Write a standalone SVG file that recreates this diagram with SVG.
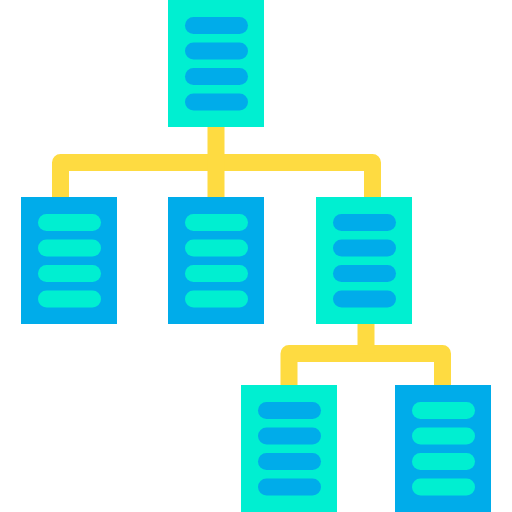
<svg xmlns="http://www.w3.org/2000/svg" width="512" height="512" viewBox="0 0 512 512">
<style>
.cy{fill:#00EFD1}.bl{fill:#00ACEA}
.ln{fill:none;stroke:#FEDB41;stroke-width:17;stroke-linejoin:round}
</style>
<defs>
<g id="barsB" class="bl">
<rect x="17" y="17" width="63" height="17" rx="8.5"/>
<rect x="17" y="42.5" width="63" height="17" rx="8.5"/>
<rect x="17" y="68" width="63" height="17" rx="8.5"/>
<rect x="17" y="93.5" width="63" height="17" rx="8.5"/>
</g>
<g id="barsC" class="cy">
<rect x="17" y="17" width="63" height="17" rx="8.5"/>
<rect x="17" y="42.5" width="63" height="17" rx="8.5"/>
<rect x="17" y="68" width="63" height="17" rx="8.5"/>
<rect x="17" y="93.5" width="63" height="17" rx="8.5"/>
</g>
</defs>
<g id="connectors">
<path class="ln" d="M60.5,198 V162.5 H372.5 V198"/>
<path class="ln" d="M216,126 V198"/>
<path class="ln" d="M289,386 V353.5 H442.5 V386"/>
<path class="ln" d="M366,324 V353.5"/>
</g>
<g id="root" transform="translate(168,0)">
<rect class="cy" width="96" height="127"/>
<use href="#barsB"/>
</g>
<g id="child1" transform="translate(21,197)">
<rect class="bl" width="96" height="127"/>
<use href="#barsC"/>
</g>
<g id="child2" transform="translate(168,197)">
<rect class="bl" width="96" height="127"/>
<use href="#barsC"/>
</g>
<g id="child3" transform="translate(316,197)">
<rect class="cy" width="96" height="127"/>
<use href="#barsB"/>
</g>
<g id="grandchild1" transform="translate(241,385)">
<rect class="cy" width="96" height="127"/>
<use href="#barsB"/>
</g>
<g id="grandchild2" transform="translate(395,385)">
<rect class="bl" width="96" height="127"/>
<use href="#barsC"/>
</g>
</svg>
